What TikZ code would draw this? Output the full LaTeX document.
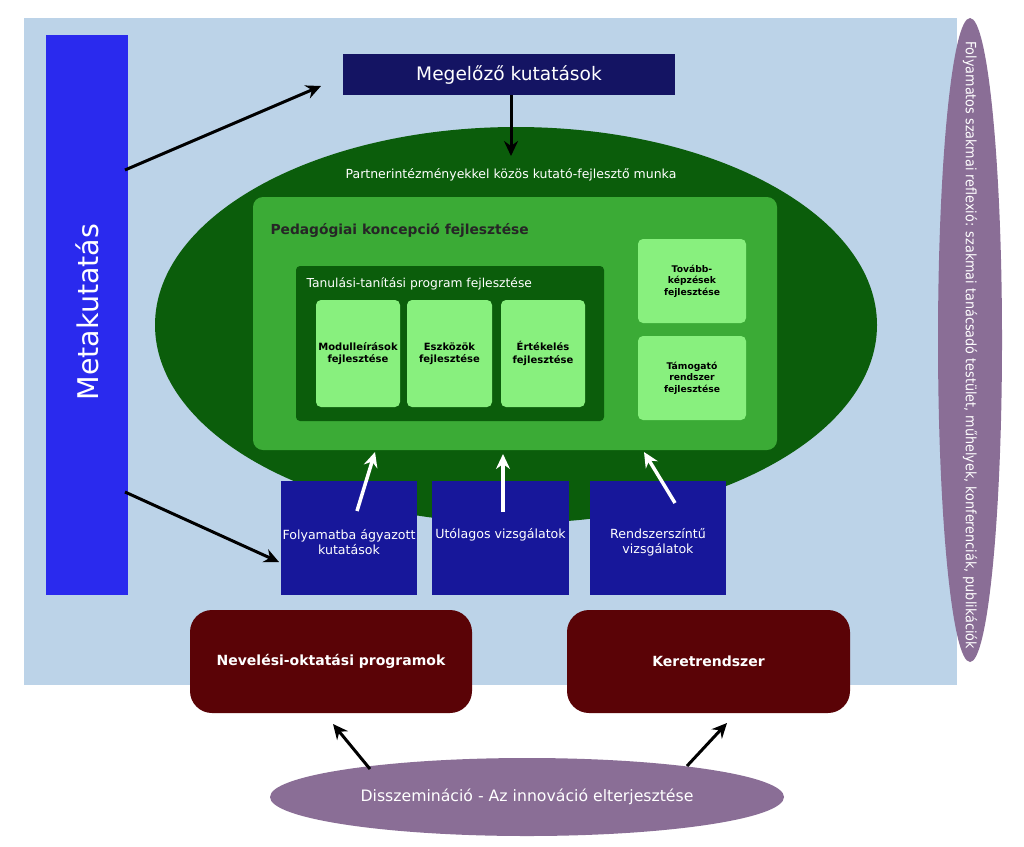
\documentclass[tikz,border=0pt]{standalone}
\usepackage{fontspec}
\setmainfont{DejaVu Sans}
\newfontfamily\condfont{DejaVu Sans Condensed}
\usetikzlibrary{arrows.meta,shapes.geometric}
\definecolor{bgblue}{HTML}{BCD3E8}
\definecolor{barblue}{HTML}{2A2AEE}
\definecolor{navy}{HTML}{141463}
\definecolor{dkgreen}{HTML}{0B5D0B}
\definecolor{midgreen}{HTML}{3BAB36}
\definecolor{ltgreen}{HTML}{88F07E}
\definecolor{boxblue}{HTML}{17179A}
\definecolor{maroon}{HTML}{5A0306}
\definecolor{violet}{HTML}{8A6E96}
\tikzset{
  blk/.style={-{Stealth[length=15pt,width=14pt,inset=5pt]},line width=3pt,black},
  wht/.style={-{Stealth[length=15pt,width=14pt,inset=5pt]},line width=3.5pt,white},
  lbox/.style={fill=ltgreen,rounded corners=5pt,inner sep=0pt,font=\bfseries\fontsize{10}{12.5}\selectfont,align=center},
  sbox/.style={fill=ltgreen,rounded corners=5pt,inner sep=0pt,font=\bfseries\fontsize{9.2}{11.5}\selectfont,align=center},
  bbox/.style={fill=boxblue,inner sep=0pt},
  btxt/.style={text=white,font=\fontsize{12.6}{15}\selectfont,align=center},
  mbox/.style={fill=maroon,rounded corners=22pt,inner sep=0pt,text=white,font=\bfseries\fontsize{14}{16}\selectfont}
}
\begin{document}
\begin{tikzpicture}[x=1pt,y=-1pt]
\useasboundingbox (0,0) rectangle (1024,846);
\fill[white] (0,0) rectangle (1024,846);
\fill[bgblue] (24,18) rectangle (957,685);
% vertical ellipse
\node[ellipse,fill=violet,minimum width=64pt,minimum height=644pt,inner sep=0pt] (refl) at (970,340) {};
\node[rotate=-90,text=white,font=\condfont\fontsize{14.2}{16}\selectfont] (refltxt) at (970,345) {Folyamatos szakmai reflexió: szakmai tanácsadó testület, műhelyek, konferenciák, publikációk};
% bar
\node[fill=barblue,minimum width=82pt,minimum height=560pt,inner sep=0pt] (meta) at (87,315) {};
\node[rotate=90,text=white,font=\fontsize{28.5}{30}\selectfont] (metatxt) at (87,312) {Metakutatás};
% green ellipse
\node[ellipse,fill=dkgreen,minimum width=722pt,minimum height=396pt,inner sep=0pt] (ell) at (516,325) {};
\node[text=white,font=\fontsize{12.5}{14}\selectfont] (partner) at (511,175) {Partnerintézményekkel közös kutató-fejlesztő munka};
% megelozo
\node[fill=navy,minimum width=332pt,minimum height=41pt,inner sep=0pt,text=white,font=\fontsize{18.6}{20}\selectfont] (meg) at (509,74.5) {Megelőző kutatások};
% mid green
\node[fill=midgreen,rounded corners=10pt,minimum width=524pt,minimum height=253pt,inner sep=0pt] (ped) at (515,323.5) {};
\node[anchor=west,font=\bfseries\fontsize{13.8}{16}\selectfont,text=black!85] (pedtxt) at (267,230) {Pedagógiai koncepció fejlesztése};
\node[fill=dkgreen,rounded corners=4pt,minimum width=308pt,minimum height=155pt,inner sep=0pt] (tan) at (450,343.5) {};
\node[anchor=west,text=white,font=\fontsize{12.3}{14}\selectfont] (tantxt) at (303,284) {Tanulási-tanítási program fejlesztése};
\node[lbox,minimum width=84pt,minimum height=107pt] (mod) at (358,353.5) {Modulleírások\\fejlesztése};
\node[lbox,minimum width=85pt,minimum height=107pt] (esz) at (449.5,353.5) {Eszközök\\fejlesztése};
\node[lbox,minimum width=84pt,minimum height=107pt] (ert) at (543,353.5) {Értékelés\\fejlesztése};
\node[sbox,minimum width=108pt,minimum height=84pt] (tov) at (692,281) {Tovább-\\képzések\\fejlesztése};
\node[sbox,minimum width=108pt,minimum height=84pt] (tam) at (692,378) {Támogató\\rendszer\\fejlesztése};
% blue boxes
\node[bbox,minimum width=136pt,minimum height=114pt] (foly) at (349,538) {};
\node[btxt] (folytxt) at (349,542) {Folyamatba ágyazott\\kutatások};
\node[bbox,minimum width=137pt,minimum height=114pt] (uto) at (500.5,538) {};
\node[btxt] (utotxt) at (500.5,535) {Utólagos vizsgálatok};
\node[bbox,minimum width=136pt,minimum height=114pt] (rend) at (658,538) {};
\node[btxt] (rendtxt) at (658,542) {Rendszerszíntű\\vizsgálatok};
% maroon boxes
\node[mbox,minimum width=282pt,minimum height=103pt] (nev) at (331,661.5) {Nevelési-oktatási programok};
\node[mbox,minimum width=283pt,minimum height=103pt] (ker) at (708.5,661.5) {Keretrendszer};
% bottom ellipse
\node[ellipse,fill=violet,minimum width=514pt,minimum height=78pt,inner sep=0pt,text=white,font=\fontsize{15.7}{17}\selectfont] (diss) at (527,797) {Disszemináció - Az innováció elterjesztése};
% arrows
\coordinate (a1s) at (125,170); \coordinate (a1e) at (321,86);
\coordinate (a2s) at (125,492); \coordinate (a2e) at (279,562);
\draw[blk] (a1s) -- (a1e);
\draw[blk] (a2s) -- (a2e);
\draw[blk] (meg.south -| 511,0) -- (511,156);
\draw[wht] (357,511) -- (375,452);
\draw[wht] (503,512) -- (503,454);
\draw[wht] (675,503) -- (644,452);
\draw[blk] (370,769) -- (333,724);
\draw[blk] (687,766) -- (727,723);
\end{tikzpicture}
\end{document}
